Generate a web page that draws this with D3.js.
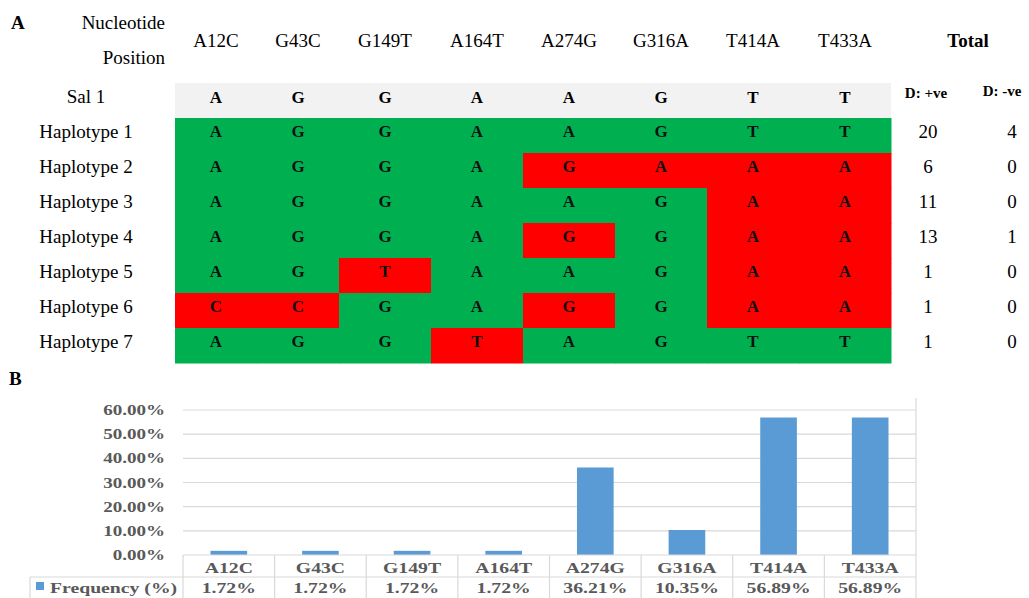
<!DOCTYPE html>
<html><head><meta charset="utf-8">
<script src="https://cdn.jsdelivr.net/npm/d3@7"></script>
<style>
body{margin:0;background:#fff}
svg{display:block}
svg text{font-family:"Liberation Serif","Times New Roman","DejaVu Serif",serif;}
</style>
</head><body>
<svg id="chart" width="1029" height="598"></svg>
<script>
// ---------- data ----------
const positions = ["A12C","G43C","G149T","A164T","A274G","G316A","T414A","T433A"];
const referenceName = "Sal 1";
const reference = ["A","G","G","A","A","G","T","T"];
const haplotypes = ["Haplotype 1","Haplotype 2","Haplotype 3","Haplotype 4","Haplotype 5","Haplotype 6","Haplotype 7"];
const hap1 = ["A","G","G","A","A","G","T","T"];
const hap2 = ["A","G","G","A","G","A","A","A"];
const hap3 = ["A","G","G","A","A","G","A","A"];
const hap4 = ["A","G","G","A","G","G","A","A"];
const hap5 = ["A","G","T","A","A","G","A","A"];
const hap6 = ["C","C","G","A","G","G","A","A"];
const hap7 = ["A","G","G","T","A","G","T","T"];
const sequences = [hap1,hap2,hap3,hap4,hap5,hap6,hap7];
const positives = [20,6,11,13,1,1,1];
const negatives = [4,0,0,1,0,0,0];
const frequency = [1.72,1.72,1.72,1.72,36.21,10.35,56.89,56.89];
const frequencyLabels = ["1.72%","1.72%","1.72%","1.72%","36.21%","10.35%","56.89%","56.89%"];
const yTicks = [0,10,20,30,40,50,60];
const seriesName = "Frequency (%)";

// ---------- styles ----------
const GREEN = "#00b050", RED = "#ff0000", GREY_BG = "#f2f2f2";
const BAR = "#5b9bd5", GRID = "#d9d9d9", TXT = "#595959";

const svg = d3.select("#chart");

// ================= Panel A =================
const gA = svg.append("g");
// piecewise column layout (first two spreadsheet columns are narrower)
const colEdge = d3.scaleLinear().domain([0, 2, positions.length]).range([175, 339, 891]);
const colX = p => colEdge(positions.indexOf(p));
const colW = p => colEdge(positions.indexOf(p) + 1) - colEdge(positions.indexOf(p));
const colC = p => colX(p) + colW(p) / 2;
const rows = [referenceName].concat(haplotypes);
const yA = d3.scaleBand().domain(rows).range([83, 363]);
const rowC = r => yA(r) + yA.bandwidth() / 2;

gA.append("text").attr("x", 11).attr("y", 29).text("A")
  .attr("font-weight", "bold").attr("font-size", 19);
gA.append("text").attr("x", 165).attr("y", 29).attr("text-anchor", "end").text("Nucleotide")
  .attr("font-size", 19);
gA.append("text").attr("x", 165).attr("y", 64).attr("text-anchor", "end").text("Position")
  .attr("font-size", 19);

gA.selectAll("text.pos").data(positions).join("text").attr("class", "pos")
  .attr("x", d => colC(d)).attr("y", 47)
  .attr("text-anchor", "middle").attr("font-size", 19).text(d => d);

gA.append("text").attr("x", 968).attr("y", 47).attr("text-anchor", "middle").text("Total")
  .attr("font-weight", "bold").attr("font-size", 19);
gA.append("text").attr("x", 926).attr("y", 98).attr("text-anchor", "middle").text("D: +ve")
  .attr("font-weight", "bold").attr("font-size", 15);
gA.append("text").attr("x", 1002).attr("y", 96).attr("text-anchor", "middle").text("D: -ve")
  .attr("font-weight", "bold").attr("font-size", 15);

// reference row
gA.append("rect").attr("x", colEdge(0)).attr("y", yA(referenceName))
  .attr("width", colEdge(positions.length) - colEdge(0)).attr("height", yA.bandwidth()).attr("fill", GREY_BG);
gA.selectAll("text.ref").data(reference).join("text").attr("class", "ref")
  .attr("x", (d, i) => colC(positions[i]))
  .attr("y", rowC(referenceName) + 2)
  .attr("text-anchor", "middle").attr("font-weight", "bold").attr("font-size", 17)
  .text(d => d);

// row labels
gA.selectAll("text.rowlab").data(rows).join("text").attr("class", "rowlab")
  .attr("x", 86).attr("y", d => rowC(d) + 2)
  .attr("text-anchor", "middle").attr("font-size", 19).text(d => d);

// cells
const cells = [];
sequences.forEach((seq, r) => seq.forEach((b, c) => cells.push({row: haplotypes[r], pos: positions[c], base: b, mut: b !== reference[c]})));
gA.selectAll("rect.cell").data(cells).join("rect").attr("class", "cell")
  .attr("x", d => colX(d.pos)).attr("y", d => yA(d.row))
  .attr("width", d => colW(d.pos) + 0.5).attr("height", yA.bandwidth() + 0.5)
  .attr("fill", d => d.mut ? RED : GREEN);
gA.selectAll("text.cell").data(cells).join("text").attr("class", "cell")
  .attr("x", d => colC(d.pos)).attr("y", d => rowC(d.row) + 1)
  .attr("text-anchor", "middle").attr("font-weight", "bold").attr("font-size", 17)
  .attr("fill", "#111").text(d => d.base);

// totals
gA.selectAll("text.posv").data(positives).join("text").attr("class", "posv")
  .attr("x", 928).attr("y", (d, i) => rowC(haplotypes[i]) + 2)
  .attr("text-anchor", "middle").attr("font-size", 19).text(d => d);
gA.selectAll("text.negv").data(negatives).join("text").attr("class", "negv")
  .attr("x", 1012).attr("y", (d, i) => rowC(haplotypes[i]) + 2)
  .attr("text-anchor", "middle").attr("font-size", 19).text(d => d);

// ================= Panel B =================
const gB = svg.append("g");
const SX = 1.36;
gB.append("text").attr("x", 9).attr("y", 385).text("B")
  .attr("font-weight", "bold").attr("font-size", 19);

const xB = d3.scaleBand().domain(positions).range([183, 916]).paddingInner(0.6).paddingOuter(0.3);
const yB = d3.scaleLinear().domain([0, 60]).range([555, 410]);
const stepB = xB.step();
const left = 183, right = 916;

// gridlines
gB.selectAll("line.grid").data(yTicks.filter(t => t > 0)).join("line").attr("class", "grid")
  .attr("x1", left).attr("x2", right).attr("y1", d => yB(d)).attr("y2", d => yB(d))
  .attr("stroke", GRID).attr("stroke-width", 1.2);

// y tick labels
gB.selectAll("text.ytick").data(yTicks).join("text").attr("class", "ytick")
  .attr("transform", d => `translate(165,${yB(d) + 5}) scale(${SX},1)`)
  .attr("text-anchor", "end").attr("font-weight", "bold").attr("font-size", 14)
  .attr("fill", TXT).text(d => d3.format(".2f")(d) + "%");

// bars
gB.selectAll("rect.bar").data(frequency).join("rect").attr("class", "bar")
  .attr("x", (d, i) => xB(positions[i])).attr("width", xB.bandwidth())
  .attr("y", d => yB(d)).attr("height", d => yB(0) - yB(d)).attr("fill", BAR);

// data table
const rowTop = 555, rowMid = 577, rowBot = 600;
gB.append("line").attr("x1", left).attr("x2", right).attr("y1", rowTop).attr("y2", rowTop).attr("stroke", GRID).attr("stroke-width", 1.2);
gB.append("line").attr("x1", 30).attr("x2", right).attr("y1", rowMid).attr("y2", rowMid).attr("stroke", GRID).attr("stroke-width", 1.2);
gB.append("line").attr("x1", 30).attr("x2", 30).attr("y1", rowMid).attr("y2", rowBot).attr("stroke", GRID).attr("stroke-width", 1.2);
gB.selectAll("line.vsep").data(positions).join("line").attr("class", "vsep")
  .attr("x1", d => xB(d) + xB.bandwidth() / 2 - stepB / 2).attr("x2", d => xB(d) + xB.bandwidth() / 2 - stepB / 2)
  .attr("y1", rowTop).attr("y2", rowBot).attr("stroke", GRID).attr("stroke-width", 1.2);
gB.append("line").attr("x1", right).attr("x2", right).attr("y1", 398).attr("y2", rowBot).attr("stroke", GRID).attr("stroke-width", 1.2);

gB.selectAll("text.cat").data(positions).join("text").attr("class", "cat")
  .attr("transform", d => `translate(${xB(d) + xB.bandwidth() / 2},573) scale(${SX},1)`)
  .attr("text-anchor", "middle").attr("font-weight", "bold").attr("font-size", 14.5)
  .attr("fill", TXT).text(d => d);
gB.selectAll("text.val").data(frequencyLabels).join("text").attr("class", "val")
  .attr("transform", (d, i) => `translate(${xB(positions[i]) + xB.bandwidth() / 2},593) scale(${SX},1)`)
  .attr("text-anchor", "middle").attr("font-weight", "bold").attr("font-size", 14.5)
  .attr("fill", TXT).text(d => d);

gB.append("rect").attr("x", 36).attr("y", 582).attr("width", 8).attr("height", 8).attr("fill", BAR);
gB.append("text").attr("transform", `translate(50,593) scale(${SX},1)`)
  .attr("font-weight", "bold").attr("font-size", 14.5)
  .attr("fill", TXT).text(seriesName);
</script>
</body></html>
